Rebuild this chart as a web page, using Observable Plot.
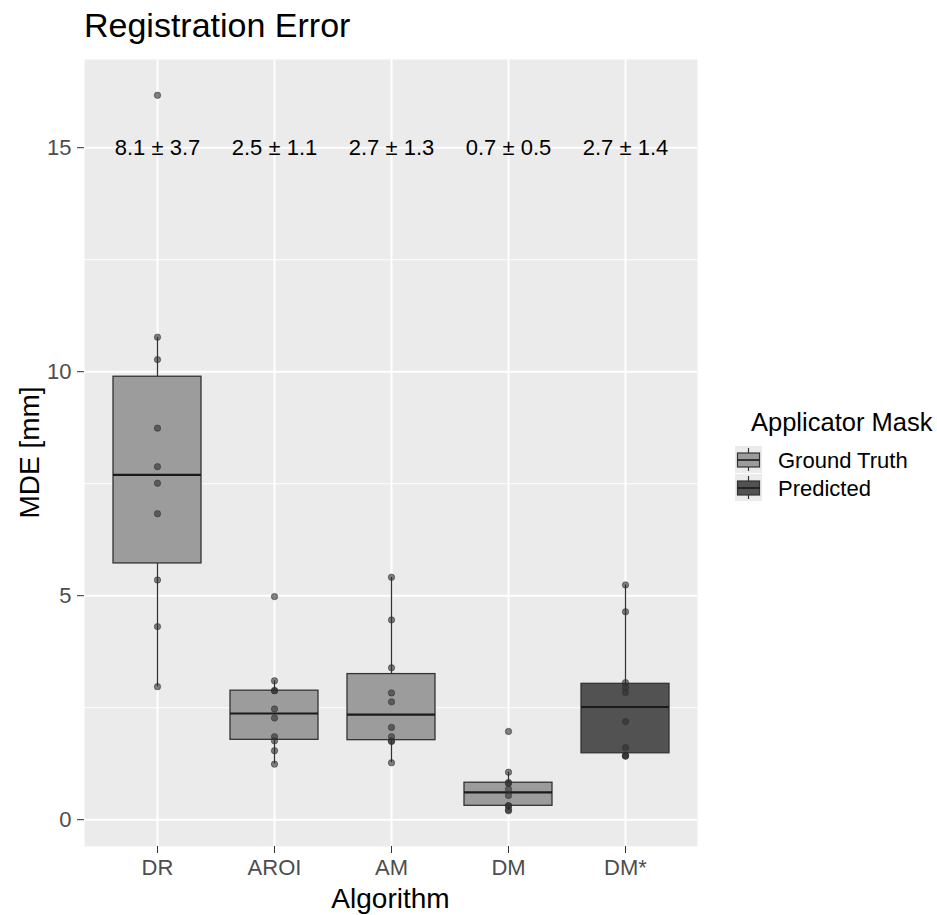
<!DOCTYPE html>
<html>
<head>
<meta charset="utf-8">
<script src="https://cdn.jsdelivr.net/npm/d3@7"></script>
<script src="https://cdn.jsdelivr.net/npm/@observablehq/plot@0.6"></script>
<style>
  body { margin: 0; background: #ffffff; }
  #wrap { position: relative; width: 937px; height: 915px; overflow: hidden; }
</style>
</head>
<body>
<div id="wrap"></div>
<script>
// ---- Data ----
const categories = ["DR", "AROI", "AM", "DM", "DM*"];
const maskType = ["Ground Truth", "Ground Truth", "Ground Truth", "Ground Truth", "Predicted"];
const maskLevels = ["Ground Truth", "Predicted"];
const drValues   = [16.17, 10.77, 10.27, 8.74, 7.88, 7.51, 6.83, 5.35, 4.31, 2.97];
const aroiValues = [4.98, 3.10, 2.88, 2.88, 2.47, 2.27, 1.85, 1.76, 1.54, 1.24];
const amValues   = [5.41, 4.46, 3.39, 2.83, 2.63, 2.06, 1.85, 1.75, 1.75, 1.27];
const dmValues   = [1.97, 1.06, 0.83, 0.81, 0.68, 0.54, 0.31, 0.31, 0.22, 0.20];
const dmsValues  = [5.24, 4.64, 3.06, 2.95, 2.84, 2.19, 1.61, 1.44, 1.42, 1.42];
const summaryLabels = ["8.1 ± 3.7", "2.5 ± 1.1", "2.7 ± 1.3", "0.7 ± 0.5", "2.7 ± 1.4"];
const summaryY = 15;
const yTicks = [0, 5, 10, 15];
const yMinorTicks = [2.5, 7.5, 12.5];

// ---- Build tables ----
const seriesValues = [drValues, aroiValues, amValues, dmValues, dmsValues];
const points = [];
categories.forEach((c, i) => seriesValues[i].forEach(v => points.push({cat: c, mask: maskType[i], value: v})));

const stats = categories.map((c, i) => {
  const vals = seriesValues[i].slice().sort(d3.ascending);
  const q1 = d3.quantile(vals, 0.25), q2 = d3.quantile(vals, 0.5), q3 = d3.quantile(vals, 0.75);
  const iqr = q3 - q1;
  const lo = d3.min(vals.filter(v => v >= q1 - 1.5 * iqr));
  const hi = d3.max(vals.filter(v => v <= q3 + 1.5 * iqr));
  return {cat: c, mask: maskType[i], q1, q2, q3, lo, hi};
});
const labels = categories.map((c, i) => ({cat: c, text: summaryLabels[i], y: summaryY}));

const allVals = points.map(d => d.value);
const [vmin, vmax] = d3.extent(allVals);
const pad = (vmax - vmin) * 0.05;

const font = "'Liberation Sans', Arial, Helvetica, sans-serif";
const W = 937, H = 915, mL = 84, mR = 240, mT = 59, mB = 69;

const plot = Plot.plot({
  width: W, height: H,
  marginLeft: mL, marginRight: mR, marginTop: mT, marginBottom: mB,
  style: {fontFamily: font, background: "transparent"},
  x: {type: "band", domain: categories, paddingInner: 0.25, paddingOuter: 0.225},
  y: {domain: [vmin - pad, vmax + pad]},
  color: {domain: maskLevels, range: ["#9c9c9c", "#525252"]},
  marks: [
    Plot.frame({fill: "#ebebeb", stroke: null}),
    Plot.ruleY(yMinorTicks, {stroke: "#ffffff", strokeWidth: 1}),
    Plot.ruleY(yTicks, {stroke: "#ffffff", strokeWidth: 2}),
    Plot.ruleX(categories, {x: d => d, stroke: "#ffffff", strokeWidth: 2}),
    Plot.ruleX(stats, {x: "cat", y1: "lo", y2: "hi", stroke: "#333333", strokeWidth: 1.3}),
    Plot.barY(stats, {x: "cat", y1: "q1", y2: "q3", fill: "mask", stroke: "#333333", strokeWidth: 1.3}),
    Plot.tickY(stats, {x: "cat", y: "q2", stroke: "#1a1a1a", strokeWidth: 2.2}),
    Plot.dot(points, {x: "cat", y: "value", r: 3.2, fill: "#2e2e2e", fillOpacity: 0.6, stroke: "#2e2e2e", strokeOpacity: 0.65, strokeWidth: 0.8}),
    Plot.text(labels, {x: "cat", y: "y", text: "text", fontSize: 22, fill: "#000000"}),
    Plot.axisY(yTicks, {tickSize: 7, tickPadding: 6, fontSize: 22, stroke: "#333333", fill: "#4d4d4d", label: null}),
    Plot.axisX(categories, {tickSize: 7, tickPadding: 6, fontSize: 22, stroke: "#333333", fill: "#4d4d4d", label: null})
  ]
});

document.getElementById("wrap").appendChild(plot);

// ---- Titles and legend ----
const svg = d3.select(plot);
const colorOf = plot.scale("color").apply;

svg.append("text").attr("x", 84).attr("y", 37)
  .attr("text-anchor", "start")
  .attr("font-family", font).attr("font-size", 34).attr("fill", "#000")
  .text("Registration Error");

svg.append("text").attr("x", mL + (W - mL - mR) / 2).attr("y", 908)
  .attr("text-anchor", "middle")
  .attr("font-family", font).attr("font-size", 28).attr("fill", "#000")
  .text("Algorithm");

svg.append("text")
  .attr("transform", `translate(39,${mT + (H - mT - mB) / 2}) rotate(-90)`)
  .attr("text-anchor", "middle")
  .attr("font-family", font).attr("font-size", 28).attr("fill", "#000")
  .text("MDE [mm]");

const lg = svg.append("g").attr("text-anchor", "start");
lg.append("text").attr("x", 751).attr("y", 431)
  .attr("text-anchor", "start")
  .attr("font-family", font).attr("font-size", 25.5).attr("fill", "#000")
  .text("Applicator Mask");

maskLevels.forEach((m, i) => {
  const top = 446 + i * 28;
  lg.append("rect").attr("x", 735).attr("y", top).attr("width", 27).attr("height", 27).attr("fill", "#ebebeb");
  lg.append("line").attr("x1", 748.5).attr("x2", 748.5).attr("y1", top + 2).attr("y2", top + 25)
    .attr("stroke", "#333").attr("stroke-width", 1.2);
  lg.append("rect").attr("x", 737.5).attr("y", top + 7).attr("width", 22).attr("height", 14)
    .attr("fill", colorOf(m)).attr("stroke", "#333").attr("stroke-width", 1.2);
  lg.append("line").attr("x1", 737.5).attr("x2", 759.5).attr("y1", top + 14).attr("y2", top + 14)
    .attr("stroke", "#1a1a1a").attr("stroke-width", 1.6);
  lg.append("text").attr("x", 778).attr("y", top + 22)
    .attr("text-anchor", "start")
    .attr("font-family", font).attr("font-size", 22).attr("fill", "#000")
    .text(m);
});
</script>
</body>
</html>
